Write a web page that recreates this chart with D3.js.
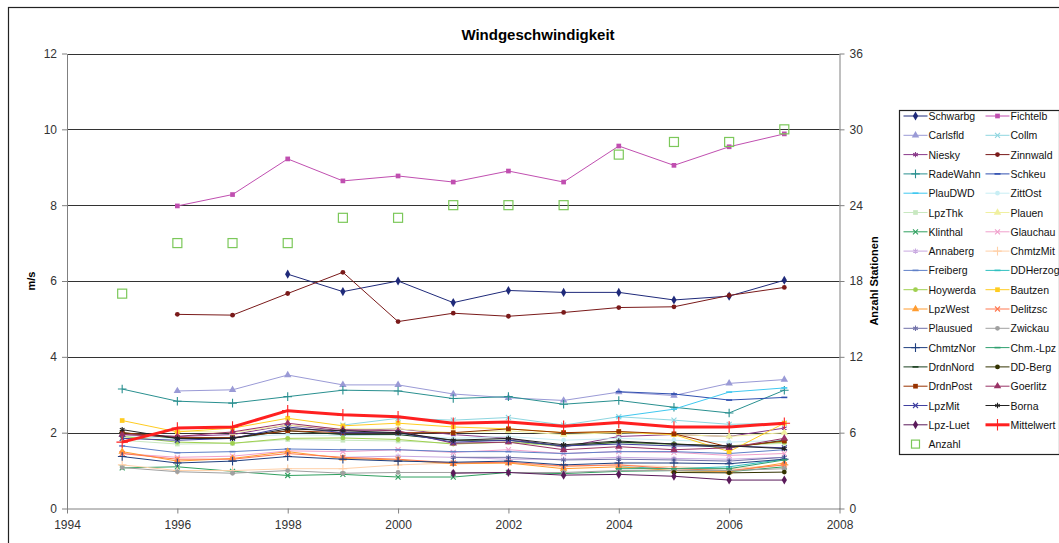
<!DOCTYPE html>
<html>
<head>
<meta charset="utf-8">
<script src="https://cdn.jsdelivr.net/npm/d3@7"></script>
<style>
  body { margin: 0; background: #fff; }
  svg { display: block; font-family: "Liberation Sans", Arial, sans-serif; }
</style>
</head>
<body>
<div id="chart"></div>
<script>
// Data
const years = [1995, 1996, 1997, 1998, 1999, 2000, 2001, 2002, 2003, 2004, 2005, 2006, 2007];
const _ = null;

const schwarbg = [_, _, _, 6.18, 5.72, 6.0, 5.43, 5.75, 5.7, 5.7, 5.5, 5.6, 6.02];
const fichtelb = [_, 7.98, 8.28, 9.22, 8.64, 8.77, 8.61, 8.9, 8.61, 9.56, 9.05, 9.54, 9.88];
const carlsfld = [_, 3.1, 3.13, 3.52, 3.26, 3.26, 3.02, 2.92, 2.85, 3.07, 2.98, 3.3, 3.4];
const collm = [_, _, _, _, 2.2, 2.38, 2.33, 2.4, 2.2, 2.42, 2.33, 2.22, 2.25];
const niesky = [1.95, 1.9, 1.95, 2.2, 2.05, 2.1, 1.95, 1.85, 1.62, 1.9, 1.95, 1.9, 2.12];
const zinnwald = [_, 5.12, 5.1, 5.67, 6.23, 4.93, 5.15, 5.07, 5.17, 5.3, 5.32, 5.62, 5.83];
const radewahn = [3.15, 2.83, 2.78, 2.95, 3.12, 3.1, 2.9, 2.95, 2.75, 2.85, 2.67, 2.52, 3.12];
const schkeu = [_, _, _, _, _, _, _, _, _, 3.08, 3.02, 2.86, 2.93];
const plaudwd = [_, _, _, _, _, _, _, _, _, 2.42, 2.62, 3.07, 3.18];
const zittost = [1.9, 1.85, 1.88, 1.95, 1.92, 1.95, 1.85, 1.9, 1.8, 1.85, 1.8, 1.75, 1.8];
const lpzthk = [1.8, 1.7, 1.72, 1.82, 1.8, 1.78, 1.72, 1.75, 1.65, 1.72, 1.68, 1.65, 1.72];
const plauen = [_, 2.05, 2.0, 2.2, 2.1, 2.1, 2.0, 2.05, 1.95, 2.0, 1.95, 1.9, 2.0];
const klinthal = [1.07, 1.1, 0.98, 0.87, 0.9, 0.83, 0.83, 0.95, 0.92, 0.98, 1.0, 0.97, 1.1];
const glauchau = [1.45, 1.35, 1.38, 1.52, 1.5, 1.55, 1.48, 1.55, 1.45, 1.5, 1.48, 1.4, 1.45];
const annaberg = [_, _, _, _, 1.35, 1.38, 1.35, 1.3, 1.3, 1.35, 1.32, 1.3, 1.35];
const chmtzmit = [1.15, 1.0, 1.0, 1.05, 1.05, 1.15, 1.2, 1.2, 1.1, 1.15, 1.1, 1.05, 1.15];
const freiberg = [1.65, 1.47, 1.5, 1.57, 1.55, 1.55, 1.5, 1.5, 1.45, 1.5, 1.5, 1.45, 1.55];
const ddherzog = [_, _, _, _, _, _, _, _, _, 1.1, 1.05, 1.1, 1.3];
const hoywerda = [1.9, 1.75, 1.72, 1.85, 1.86, 1.82, 1.7, 1.75, 1.65, 1.75, 1.7, 1.65, 1.75];
const bautzen = [2.32, 2.02, 2.12, 2.38, 2.18, 2.25, 2.15, 2.1, 2.0, 2.02, 1.95, 1.5, 2.25];
const lpzwest = [1.5, 1.25, 1.32, 1.5, 1.32, 1.28, 1.18, 1.2, 1.05, 1.1, 1.0, 0.97, 1.2];
const delitzsc = [1.45, 1.3, 1.3, 1.45, 1.35, 1.3, 1.2, 1.22, 1.12, 1.15, 1.05, 1.0, 1.15];
const plausued = [_, _, _, _, _, _, 1.35, 1.35, 1.28, 1.3, 1.28, 1.25, 1.35];
const zwickau = [1.08, 0.97, 0.93, 1.0, 0.93, 0.95, 0.95, 0.95, 0.95, 1.0, 1.0, 1.0, 1.05];
const chmtznor = [1.37, 1.2, 1.25, 1.37, 1.3, 1.25, 1.22, 1.25, 1.15, 1.2, 1.2, 1.18, 1.3];
const chmlpz = [_, _, _, _, _, _, _, _, _, 1.05, 1.05, 1.05, 1.28];
const drdnnord = [2.0, 1.85, 1.85, 2.05, 1.95, 1.95, 1.8, 1.8, 1.65, 1.75, 1.7, 1.6, 1.8];
const ddberg = [_, _, _, _, _, _, _, _, _, _, 0.95, 0.94, 0.96];
const drdnpost = [2.0, 1.87, 1.87, 2.05, 2.0, 2.0, 2.0, 2.1, 2.0, 2.03, 1.97, 1.62, 1.78];
const goerlitz = [1.95, 1.9, 2.02, 2.25, 2.08, 2.05, 1.72, 1.75, 1.55, 1.63, 1.55, 1.6, 1.85];
const lpzmit = [1.85, 1.8, 1.85, 2.15, 2.0, 2.0, 1.75, 1.8, 1.65, 1.7, 1.65, 1.65, 1.6];
const borna = [2.08, 1.85, 1.85, 2.1, 2.05, 2.0, 1.8, 1.85, 1.68, 1.78, 1.7, 1.65, 1.58];
const lpzluet = [_, _, _, _, _, _, 0.93, 0.95, 0.88, 0.9, 0.85, 0.75, 0.75];
const mittelwert = [1.75, 2.12, 2.15, 2.58, 2.47, 2.42, 2.25, 2.28, 2.17, 2.27, 2.15, 2.15, 2.25];
const anzahl = [17, 21, 21, 21, 23, 23, 24, 24, 24, 28, 29, 29, 30];

const yTicks = [0, 2, 4, 6, 8, 10, 12];
const y2Ticks = [0, 6, 12, 18, 24, 30, 36];
const xTicks = [1994, 1996, 1998, 2000, 2002, 2004, 2006, 2008];

// series: name, values, colour, marker
const series = [
  ['Schwarbg', schwarbg, '#1f2a7a', 'diamond'],
  ['Fichtelb', fichtelb, '#c04fb0', 'square'],
  ['Carlsfld', carlsfld, '#9a9ad6', 'triangle'],
  ['Collm', collm, '#8fd6e0', 'times'],
  ['Niesky', niesky, '#8a3a8a', 'star'],
  ['Zinnwald', zinnwald, '#7a1a1a', 'circle'],
  ['RadeWahn', radewahn, '#2a9090', 'plus'],
  ['Schkeu', schkeu, '#3050b0', 'dash'],
  ['PlauDWD', plaudwd, '#40c8f0', 'dash'],
  ['ZittOst', zittost, '#c8eef4', 'circle'],
  ['LpzThk', lpzthk, '#c8e8c0', 'square'],
  ['Plauen', plauen, '#f0f0a0', 'triangle'],
  ['Klinthal', klinthal, '#30a060', 'times'],
  ['Glauchau', glauchau, '#f0a0cc', 'times'],
  ['Annaberg', annaberg, '#c8a8e0', 'star'],
  ['ChmtzMit', chmtzmit, '#ffd0a8', 'plus'],
  ['Freiberg', freiberg, '#6080c8', 'dash'],
  ['DDHerzog', ddherzog, '#30c0c0', 'dash'],
  ['Hoywerda', hoywerda, '#a0d050', 'circle'],
  ['Bautzen', bautzen, '#ffcc20', 'square'],
  ['LpzWest', lpzwest, '#ff9c30', 'triangle'],
  ['Delitzsc', delitzsc, '#ff7850', 'times'],
  ['Plausued', plausued, '#7070a8', 'star'],
  ['Zwickau', zwickau, '#a0a0a0', 'circle'],
  ['ChmtzNor', chmtznor, '#204080', 'plus'],
  ['Chm.-Lpz', chmlpz, '#30a070', 'dash'],
  ['DrdnNord', drdnnord, '#1a4020', 'dash'],
  ['DD-Berg', ddberg, '#333300', 'circle'],
  ['DrdnPost', drdnpost, '#993300', 'square'],
  ['Goerlitz', goerlitz, '#993366', 'triangle'],
  ['LpzMit', lpzmit, '#4040a0', 'times'],
  ['Borna', borna, '#222222', 'star'],
  ['Lpz-Luet', lpzluet, '#5a1a5a', 'diamond'],
  ['Mittelwert', mittelwert, '#ff2020', 'plus']
];

const width = 1059;
const height = 543;
const margin = {top: 53.5, right: 220, bottom: 34.5, left: 67};

const svg = d3.select('#chart')
  .append('svg')
  .attr('width', width)
  .attr('height', height)
  .attr('viewBox', `0,0,${width},${height}`);

const x = d3.scaleLinear().domain([1994, 2008]).range([margin.left, width - margin.right + 0.5]);
const y = d3.scaleLinear().domain([0, 12]).range([height - margin.bottom, margin.top]);
const y2 = d3.scaleLinear().domain([0, 36]).range([height - margin.bottom, margin.top]);

// outer frame
svg.append('rect')
  .attr('x', 8.5).attr('y', 7.5)
  .attr('width', width).attr('height', height)
  .attr('fill', 'none').attr('stroke', '#222').attr('stroke-width', 1.2);

svg.append('text')
  .attr('x', 538).attr('y', 40)
  .attr('text-anchor', 'middle')
  .attr('font-size', 15).attr('font-weight', 'bold')
  .text('Windgeschwindigkeit');

// gridlines
svg.append('g')
  .selectAll('line')
  .data(yTicks.filter(d => d > 0))
  .join('line')
  .attr('x1', margin.left).attr('x2', x(2008))
  .attr('y1', d => Math.round(y(d)) + 0.5).attr('y2', d => Math.round(y(d)) + 0.5)
  .attr('stroke', '#333').attr('stroke-width', 1);

function styleAxis(g) {
  g.select('.domain').attr('stroke', '#808080');
  g.selectAll('.tick line').attr('stroke', '#808080');
  g.selectAll('.tick text').attr('fill', '#333').attr('font-size', 12).attr('font-family', '"Liberation Sans", Arial, sans-serif');
}

svg.append('g')
  .attr('transform', `translate(${margin.left},0)`)
  .call(d3.axisLeft(y).tickValues(yTicks).tickSize(5).tickSizeOuter(0).tickPadding(5))
  .call(styleAxis);

svg.append('g')
  .attr('transform', `translate(${x(2008)},0)`)
  .call(d3.axisRight(y2).tickValues(y2Ticks).tickSize(5).tickSizeOuter(0).tickPadding(5))
  .call(styleAxis);

svg.append('g')
  .attr('transform', `translate(0,${y(0)})`)
  .call(d3.axisBottom(x).tickValues(xTicks).tickFormat(d3.format('d')).tickSize(5).tickSizeOuter(0).tickPadding(7))
  .call(styleAxis);

svg.append('text')
  .attr('transform', `translate(35,${(y(0) + y(12)) / 2}) rotate(-90)`)
  .attr('text-anchor', 'middle')
  .attr('font-size', 11).attr('font-weight', 'bold')
  .text('m/s');

svg.append('text')
  .attr('transform', `translate(878,${(y(0) + y(12)) / 2}) rotate(-90)`)
  .attr('text-anchor', 'middle')
  .attr('font-size', 11).attr('font-weight', 'bold')
  .text('Anzahl Stationen');

// markers
const filledSymbols = {
  diamond: [d3.symbolDiamond, 24],
  square: [d3.symbolSquare, 22],
  triangle: [d3.symbolTriangle, 24],
  circle: [d3.symbolCircle, 18]
};
const strokeSymbols = {
  times: [d3.symbolTimes, 18],
  star: [d3.symbolAsterisk, 20],
  plus: [d3.symbolPlus, 26]
};

function drawMarker(g, type, color, big) {
  if (filledSymbols[type]) {
    const [s, size] = filledSymbols[type];
    g.append('path').attr('d', d3.symbol(s, size)()).attr('fill', color);
  } else if (strokeSymbols[type]) {
    const [s, size] = strokeSymbols[type];
    g.append('path').attr('d', d3.symbol(s, big ? 45 : size)())
      .attr('fill', 'none').attr('stroke', color).attr('stroke-width', 1.1);
  } else {
    g.append('path').attr('d', 'M-3,0H3').attr('stroke', color).attr('stroke-width', 1.6);
  }
}

const line = d3.line()
  .defined(d => d.v !== null)
  .x(d => x(d.year))
  .y(d => y(d.v));

const plot = svg.append('g');
series.forEach(([name, values, color, marker]) => {
  const pts = years.map((year, i) => ({year, v: values[i]}));
  const isMean = name === 'Mittelwert';
  plot.append('path')
    .datum(pts)
    .attr('fill', 'none')
    .attr('stroke', color)
    .attr('stroke-width', isMean ? 3 : 1)
    .attr('stroke-linejoin', 'round')
    .attr('d', line);
  plot.append('g')
    .selectAll('g')
    .data(pts.filter(d => d.v !== null))
    .join('g')
    .attr('transform', d => `translate(${x(d.year)},${y(d.v)})`)
    .each(function () { drawMarker(d3.select(this), marker, color, isMean); });
});

// Anzahl (right axis), open squares
plot.append('g')
  .selectAll('rect')
  .data(years.map((year, i) => ({year, n: anzahl[i]})))
  .join('rect')
  .attr('x', d => x(d.year) - 4.5)
  .attr('y', d => y2(d.n) - 4.5)
  .attr('width', 9).attr('height', 9)
  .attr('fill', 'none').attr('stroke', '#7cc85a').attr('stroke-width', 1.2);

// legend
const legend = svg.append('g').attr('transform', 'translate(899.5,110.5)');
legend.append('rect')
  .attr('width', 160).attr('height', 344)
  .attr('fill', '#fff').attr('stroke', '#222').attr('stroke-width', 1.2);

const rowH = 19.3;
const entries = series.map(([name, , color, marker]) => ({name, color, marker}));
entries.forEach((e, i) => {
  const col = i % 2;
  const row = Math.floor(i / 2);
  const g = legend.append('g')
    .attr('transform', `translate(${col === 0 ? 4 : 86},${5.5 + row * rowH})`);
  const isMean = e.name === 'Mittelwert';
  g.append('line')
    .attr('x1', 0).attr('x2', 24)
    .attr('stroke', e.color).attr('stroke-width', isMean ? 3 : 1);
  const m = g.append('g').attr('transform', 'translate(12,0)');
  drawMarker(m, e.marker, e.color, isMean);
  g.append('text')
    .attr('x', 25).attr('y', 4)
    .attr('font-size', 10.5).attr('fill', '#111')
    .text(e.name);
});
const ag = legend.append('g').attr('transform', `translate(4,${5.5 + 17 * rowH})`);
ag.append('rect')
  .attr('x', 12 - 4).attr('y', -4).attr('width', 8).attr('height', 8)
  .attr('fill', 'none').attr('stroke', '#7cc85a').attr('stroke-width', 1.2);
ag.append('text')
  .attr('x', 25).attr('y', 4)
  .attr('font-size', 10.5).attr('fill', '#111')
  .text('Anzahl');
</script>
</body>
</html>
